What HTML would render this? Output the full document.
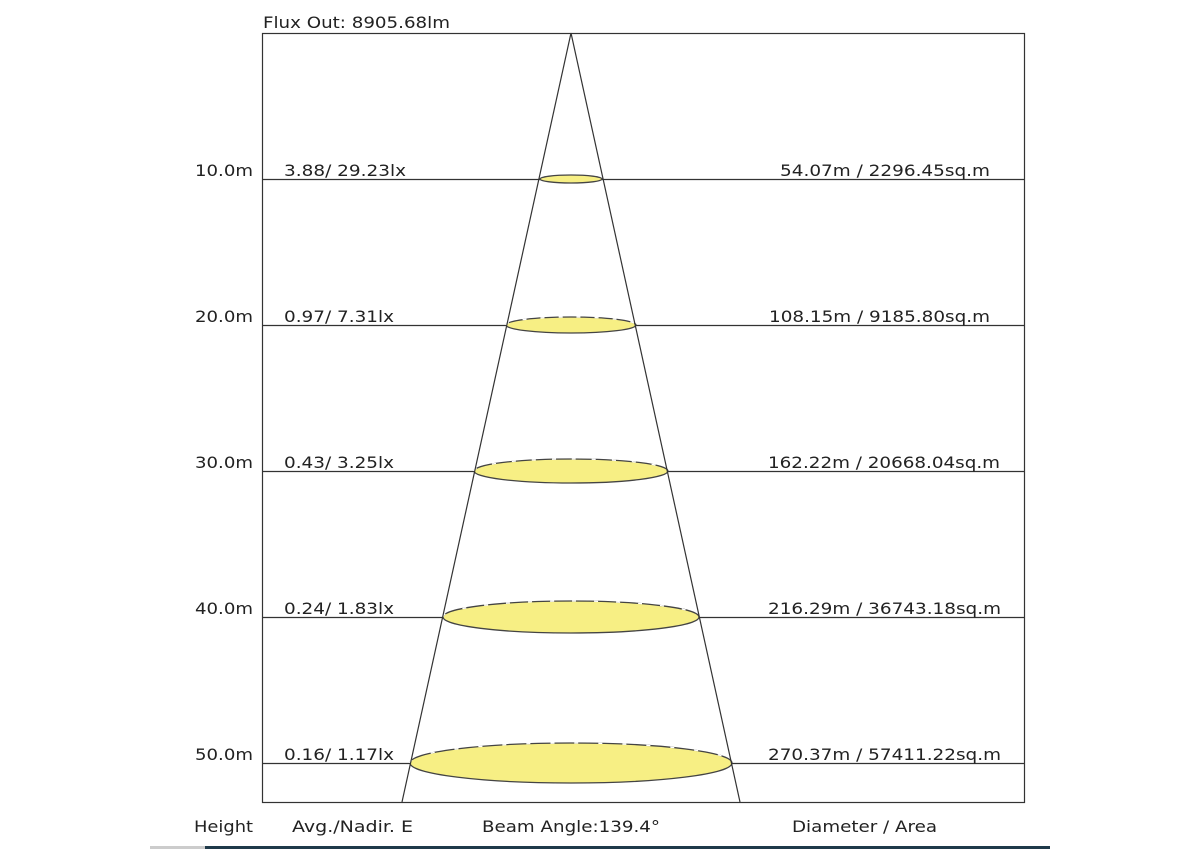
<!DOCTYPE html>
<html><head><style>body{margin:0;background:#fff}svg{display:block}</style></head><body>
<svg width="1200" height="849" xmlns="http://www.w3.org/2000/svg" font-family="'DejaVu Sans','Liberation Sans',sans-serif" font-size="16" fill="#222">
<rect x="262.5" y="33.5" width="762" height="769" fill="none" stroke="#333" stroke-width="1.2"/>
<g stroke="#333" stroke-width="1.2">
<line x1="262" y1="179.5" x2="1024" y2="179.5"/>
<line x1="262" y1="325.5" x2="1024" y2="325.5"/>
<line x1="262" y1="471.5" x2="1024" y2="471.5"/>
<line x1="262" y1="617.5" x2="1024" y2="617.5"/>
<line x1="262" y1="763.5" x2="1024" y2="763.5"/>
</g>
<g fill="#f7ef84" stroke="#444" stroke-width="1.3">
<ellipse cx="571" cy="179" rx="31" ry="4"/>
<ellipse cx="571" cy="325" rx="65" ry="8"/>
<ellipse cx="571" cy="471" rx="97" ry="12"/>
<ellipse cx="571" cy="617" rx="128" ry="16"/>
<ellipse cx="571" cy="763" rx="161" ry="20"/>
</g>
<g fill="none" stroke="#444" stroke-width="1.3" stroke-dasharray="14 6">
<path d="M540 179 A31 4 0 0 1 602 179" stroke="#fff" stroke-dasharray="none" stroke-width="0"/>
<path d="M506 325 A65 8 0 0 1 636 325" stroke="#fff" stroke-dasharray="4 14"/>
<path d="M474 471 A97 12 0 0 1 668 471" stroke="#fff" stroke-dasharray="4 16"/>
<path d="M443 617 A128 16 0 0 1 699 617" stroke="#fff" stroke-dasharray="4 18"/>
<path d="M410 763 A161 20 0 0 1 732 763" stroke="#fff" stroke-dasharray="4 20"/>
</g>
<g stroke="#333" stroke-width="1.2">
<line x1="571" y1="33" x2="402" y2="802"/>
<line x1="571" y1="33" x2="740" y2="802"/>
</g>
<text x="263" y="28" textLength="187" lengthAdjust="spacingAndGlyphs">Flux Out: 8905.68lm</text>
<g>
<text x="195" y="176" textLength="58" lengthAdjust="spacingAndGlyphs">10.0m</text>
<text x="284" y="176" textLength="122" lengthAdjust="spacingAndGlyphs">3.88/ 29.23lx</text>
<text x="780" y="176" textLength="210" lengthAdjust="spacingAndGlyphs">54.07m / 2296.45sq.m</text>
<text x="195" y="322" textLength="58" lengthAdjust="spacingAndGlyphs">20.0m</text>
<text x="284" y="322" textLength="110" lengthAdjust="spacingAndGlyphs">0.97/ 7.31lx</text>
<text x="769" y="322" textLength="221" lengthAdjust="spacingAndGlyphs">108.15m / 9185.80sq.m</text>
<text x="195" y="468" textLength="58" lengthAdjust="spacingAndGlyphs">30.0m</text>
<text x="284" y="468" textLength="110" lengthAdjust="spacingAndGlyphs">0.43/ 3.25lx</text>
<text x="768" y="468" textLength="232" lengthAdjust="spacingAndGlyphs">162.22m / 20668.04sq.m</text>
<text x="195" y="614" textLength="58" lengthAdjust="spacingAndGlyphs">40.0m</text>
<text x="284" y="614" textLength="110" lengthAdjust="spacingAndGlyphs">0.24/ 1.83lx</text>
<text x="768" y="614" textLength="233" lengthAdjust="spacingAndGlyphs">216.29m / 36743.18sq.m</text>
<text x="195" y="760" textLength="58" lengthAdjust="spacingAndGlyphs">50.0m</text>
<text x="284" y="760" textLength="110" lengthAdjust="spacingAndGlyphs">0.16/ 1.17lx</text>
<text x="768" y="760" textLength="233" lengthAdjust="spacingAndGlyphs">270.37m / 57411.22sq.m</text>
<text x="194" y="832" textLength="59" lengthAdjust="spacingAndGlyphs">Height</text>
<text x="292" y="832" textLength="121" lengthAdjust="spacingAndGlyphs">Avg./Nadir. E</text>
<text x="482" y="832" textLength="178" lengthAdjust="spacingAndGlyphs">Beam Angle:139.4°</text>
<text x="792" y="832" textLength="145" lengthAdjust="spacingAndGlyphs">Diameter / Area</text>
</g>
<rect x="150" y="846" width="55" height="3" fill="#ccc"/>
<rect x="205" y="846" width="845" height="3" fill="#1f3a4a"/>
</svg>
</body></html>
